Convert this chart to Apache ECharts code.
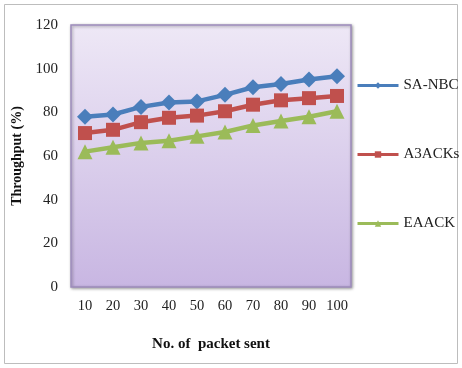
<!DOCTYPE html>
<html><head><meta charset="utf-8">
<script src="https://cdn.jsdelivr.net/npm/echarts@6/dist/echarts.min.js"></script>
<style>html,body{margin:0;padding:0;background:#fff}#c{width:462px;height:368px}</style>
</head><body><div id="c"></div>
<script>
const categories = ['10','20','30','40','50','60','70','80','90','100'];
const saNbc = [78, 79, 82.5, 84.5, 85, 88, 91.5, 93, 95, 96.5];
const a3acks = [70.5, 72, 75.5, 77.5, 78.5, 80.5, 83.5, 85.5, 86.5, 87.5];
const eaack = [62, 64, 66, 67, 69, 71, 74, 76, 78, 80.5];
const seriesNames = ['SA-NBC', 'A3ACKs', 'EAACK'];
const yTicks = {min: 0, max: 120, interval: 20};

const chart = echarts.init(document.getElementById('c'));
const font = '"Liberation Serif", "Times New Roman", serif';
function mk(name, data, color, symbol, size) {
  return {
    name, type: 'line', data, symbol, symbolSize: size,
    itemStyle: {color}, lineStyle: {color, width: 4.5},
    emphasis: {disabled: true}, animation: false
  };
}
chart.setOption({
  animation: false,
  graphic: [{
    type: 'rect', left: 4, top: 4, z: -10,
    shape: {width: 453, height: 359},
    style: {fill: '#fff', stroke: '#bdbdbd', lineWidth: 1}
  }],
  grid: {left: 71, top: 25, right: 111, bottom: 81,
    show: true, borderColor: '#9d8cbc', borderWidth: 1.5,
    backgroundColor: new echarts.graphic.LinearGradient(0,0,0,1,[
      {offset: 0, color: '#eee8f6'}, {offset: 1, color: '#c8b6e2'}]),
    shadowColor: 'rgba(0,0,0,0.35)', shadowBlur: 3, shadowOffsetX: 1, shadowOffsetY: 1
  },
  legend: {
    orient: 'vertical', left: 356, top: 78, itemGap: 54, padding: 0,
    itemWidth: 41, itemHeight: 8,
    itemStyle: {borderWidth: 0},
    lineStyle: {width: 3},
    textStyle: {fontFamily: font, fontSize: 15, color: '#222'},
    data: seriesNames
  },
  xAxis: {
    type: 'category', data: categories, boundaryGap: true,
    axisLine: {show: false}, axisTick: {show: false},
    axisLabel: {fontFamily: font, fontSize: 14.5, color: '#222', margin: 12, interval: 0},
    name: 'No. of  packet sent', nameLocation: 'middle', nameGap: 50,
    nameTextStyle: {fontFamily: font, fontSize: 15, fontWeight: 'bold', color: '#111'}
  },
  yAxis: {
    type: 'value', min: yTicks.min, max: yTicks.max, interval: yTicks.interval,
    splitLine: {show: false}, axisLine: {show: false}, axisTick: {show: false},
    axisLabel: {fontFamily: font, fontSize: 15, color: '#222', margin: 13},
    name: 'Throughput (%)', nameLocation: 'middle', nameGap: 47,
    nameTextStyle: {fontFamily: font, fontSize: 14, fontWeight: 'bold', color: '#111'}
  },
  series: [
    mk(seriesNames[0], saNbc, '#4a7ebb', 'diamond', 16),
    mk(seriesNames[1], a3acks, '#c0504d', 'rect', 14),
    mk(seriesNames[2], eaack, '#9bbb59', 'triangle', 15)
  ]
});
</script></body></html>
